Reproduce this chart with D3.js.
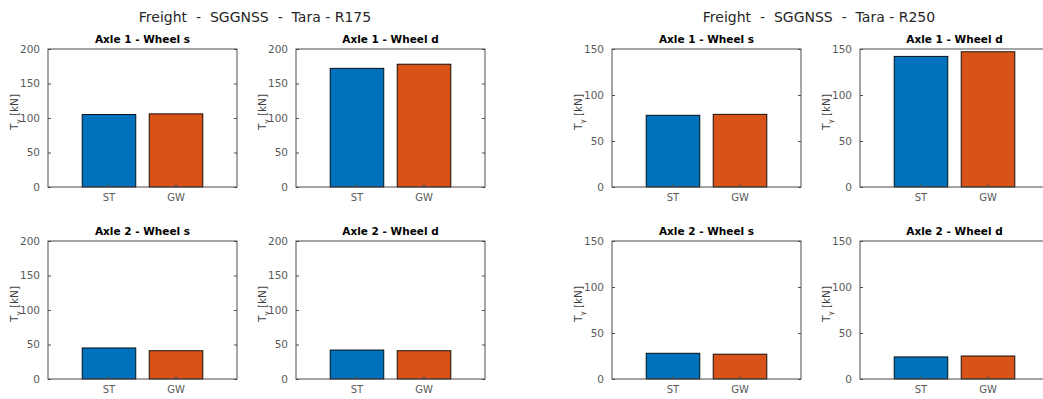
<!DOCTYPE html>
<html>
<head>
<meta charset="utf-8">
<script src="https://cdn.jsdelivr.net/npm/d3@7"></script>
<style>
  body { margin: 0; background: #fff; }
  svg text { font-family: "DejaVu Sans", sans-serif; white-space: pre; }
</style>
</head>
<body>
<svg id="chart" width="1043" height="399"></svg>
<script>
// data
const categories = ["ST", "GW"];
const figureTitles = ["Freight  -  SGGNSS  -  Tara - R175", "Freight  -  SGGNSS  -  Tara - R250"];
const panelTitles = ["Axle 1 - Wheel s", "Axle 1 - Wheel d", "Axle 2 - Wheel s", "Axle 2 - Wheel d"];
const r175Values = [[105, 106], [172, 178], [45, 41], [42, 41]];
const r250Values = [[78, 79], [142, 147], [28, 27], [24, 25]];
const r175Ticks = [0, 50, 100, 150, 200];
const r250Ticks = [0, 50, 100, 150];
const barColors = ["#0072BD", "#D95319"];

const svg = d3.select("svg#chart");

const figures = [
  { title: figureTitles[0], titleX: 255, lefts: [48, 296], values: r175Values, ticks: r175Ticks },
  { title: figureTitles[1], titleX: 819, lefts: [612, 860], values: r250Values, ticks: r250Ticks }
];
const tops = [49, 241];
const pw = 189, ph = 138;
const axisColor = "#4d4d4d";

figures.forEach((fig) => {
  svg.append("text")
    .attr("x", fig.titleX).attr("y", 22)
    .attr("text-anchor", "middle")
    .attr("font-size", 14).attr("fill", "#262626")
    .text(fig.title);

  const ymax = d3.max(fig.ticks);

  fig.values.forEach((vals, i) => {
    const row = Math.floor(i / 2), col = i % 2;
    const x0 = fig.lefts[col], y0 = tops[row];
    const g = svg.append("g").attr("transform", `translate(${x0},${y0})`);

    const x = d3.scaleBand().domain(categories).range([0, pw]).paddingInner(0.2).paddingOuter(0.51);
    const y = d3.scaleLinear().domain([0, ymax]).range([ph, 0]);

    // bars
    g.selectAll("rect.bar").data(vals).enter().append("rect")
      .attr("class", "bar")
      .attr("x", (d, k) => x(categories[k]))
      .attr("y", (d) => y(d))
      .attr("width", x.bandwidth())
      .attr("height", (d) => ph - y(d))
      .attr("fill", (d, k) => barColors[k])
      .attr("stroke", "#000").attr("stroke-width", 0.9);

    // left axis, inward ticks
    const ya = g.append("g").call(d3.axisLeft(y).tickValues(fig.ticks).tickSize(-3).tickPadding(8));
    ya.select(".domain").remove();
    ya.selectAll("line").attr("stroke", axisColor);
    ya.selectAll("text").attr("font-size", 10.5).attr("fill", "#5a5a5a").attr("font-family", "DejaVu Sans");

    // right axis mirror ticks
    const yr = g.append("g").attr("transform", `translate(${pw},0)`)
      .call(d3.axisRight(y).tickValues(fig.ticks).tickSize(-3).tickFormat(""));
    yr.select(".domain").remove();
    yr.selectAll("line").attr("stroke", axisColor);

    // bottom axis
    const xa = g.append("g").attr("transform", `translate(0,${ph})`)
      .call(d3.axisBottom(x).tickSize(-3).tickPadding(7));
    xa.select(".domain").remove();
    xa.selectAll("line").attr("stroke", axisColor);
    xa.selectAll("text").attr("font-size", 10).attr("fill", "#5a5a5a").attr("font-family", "DejaVu Sans");

    // box
    g.append("rect")
      .attr("width", pw).attr("height", ph)
      .attr("fill", "none").attr("stroke", axisColor).attr("stroke-width", 1);

    // panel title
    g.append("text")
      .attr("x", pw / 2).attr("y", -6)
      .attr("text-anchor", "middle")
      .attr("font-size", 10.5).attr("font-weight", "bold").attr("fill", "#000")
      .text(panelTitles[i]);

    // y label: T with subscript gamma
    const lab = g.append("text")
      .attr("transform", `translate(-30,${ph / 2 - 6}) rotate(-90)`)
      .attr("text-anchor", "middle")
      .attr("font-size", 10.5).attr("fill", "#404040");
    lab.append("tspan").text("T");
    lab.append("tspan").attr("font-size", 7).attr("dy", 3).text("\u03B3");
    lab.append("tspan").attr("dy", -3).text(" [kN]");
  });
});
</script>
</body>
</html>
